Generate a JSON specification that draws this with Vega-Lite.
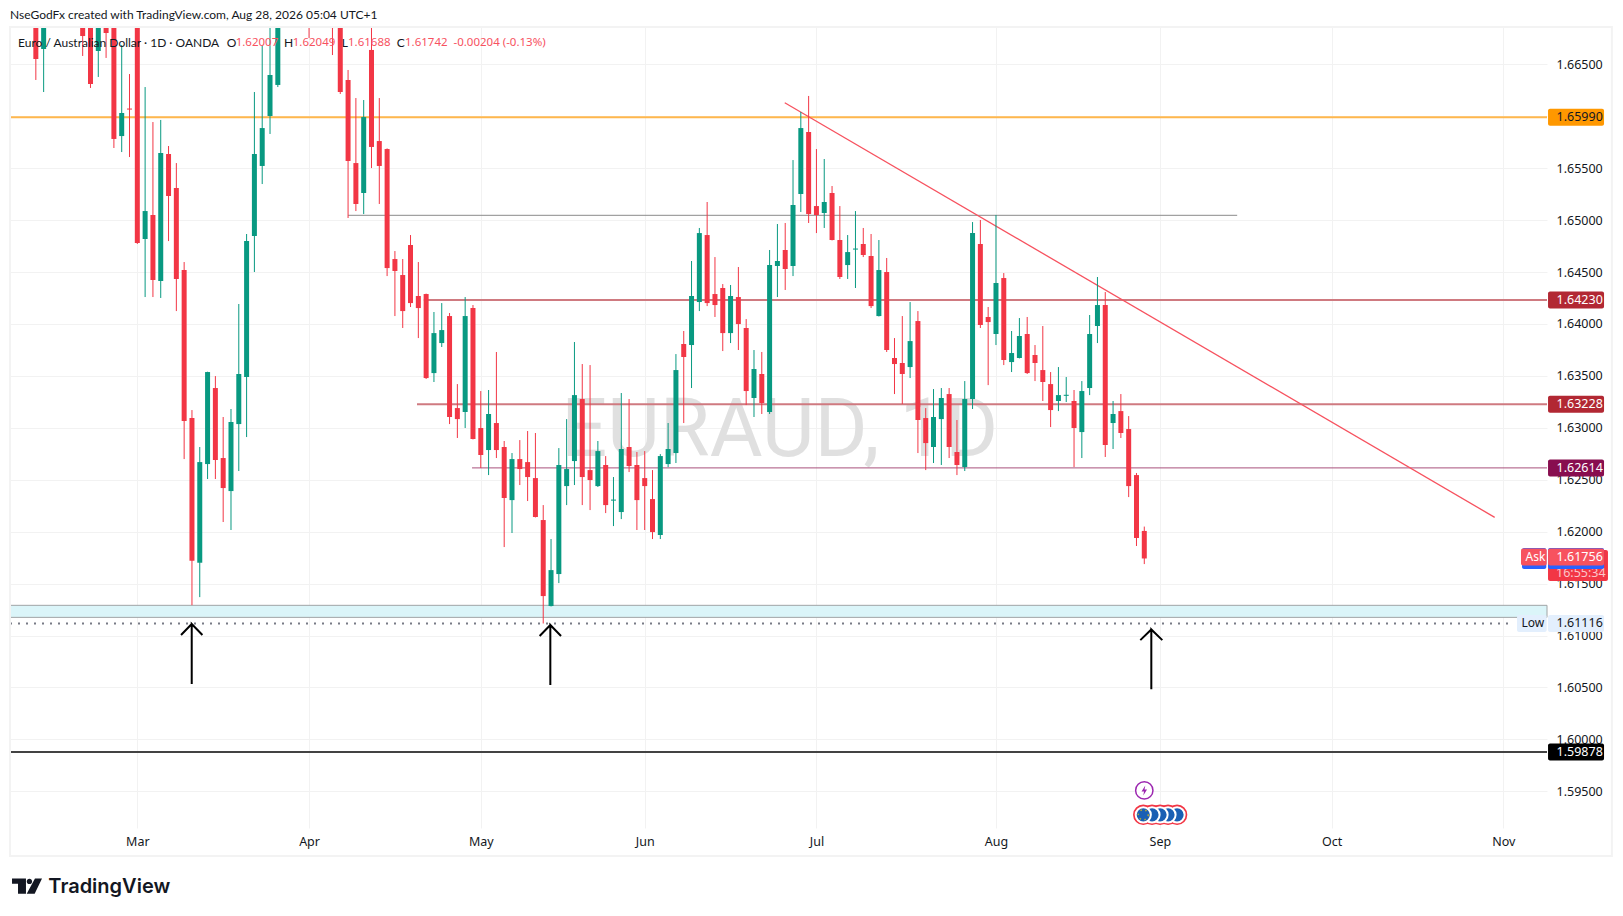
{
  "$schema": "https://vega.github.io/schema/vega-lite/v6.json",
  "autosize": "none",
  "width": 1537,
  "height": 801,
  "padding": {"left": 10, "top": 27, "right": 76, "bottom": 88},
  "background": "white",
  "title": {"text": "NseGodFx created with TradingView.com, Aug 28, 2026 05:04 UTC+1", "anchor": "start", "frame": "group", "offset": 4.5, "font": "Lato", "fontSize": 12, "fontWeight": "normal", "color": "#131722"},
  "config": {"view": {"stroke": null}, "font": "Noto Sans"},
  "datasets": {
    "candles": [
      {"i":-13,"o":1.67023,"h":1.6710,"l":1.66349,"c":1.66551},
      {"i":-12,"o":1.66647,"h":1.6715,"l":1.66233,"c":1.6702},
      {"i":-11,"o":1.6702,"h":1.6725,"l":1.6695,"c":1.6712},
      {"i":-10,"o":1.6712,"h":1.6730,"l":1.6700,"c":1.6705},
      {"i":-9,"o":1.6705,"h":1.6722,"l":1.6692,"c":1.6715},
      {"i":-8,"o":1.6715,"h":1.6725,"l":1.6698,"c":1.6702},
      {"i":-7,"o":1.6700,"h":1.6715,"l":1.6658,"c":1.66772},
      {"i":-6,"o":1.6695,"h":1.6710,"l":1.66272,"c":1.6631},
      {"i":-5,"o":1.66628,"h":1.6712,"l":1.66378,"c":1.6700},
      {"i":-4,"o":1.6695,"h":1.6705,"l":1.66561,"c":1.66801},
      {"i":-3,"o":1.6690,"h":1.6700,"l":1.65694,"c":1.65781},
      {"i":-2,"o":1.65809,"h":1.66686,"l":1.65655,"c":1.66031},
      {"i":-1,"o":1.66074,"h":1.66406,"l":1.65607,"c":1.66064},
      {"i":0,"o":1.6695,"h":1.6705,"l":1.6477,"c":1.64779},
      {"i":1,"o":1.64818,"h":1.66281,"l":1.64259,"c":1.65087},
      {"i":2,"o":1.65049,"h":1.65944,"l":1.64259,"c":1.64423},
      {"i":3,"o":1.64413,"h":1.65964,"l":1.6425,"c":1.65646},
      {"i":4,"o":1.65636,"h":1.65713,"l":1.64798,"c":1.65232},
      {"i":5,"o":1.65309,"h":1.65549,"l":1.64124,"c":1.64433},
      {"i":6,"o":1.64519,"h":1.64596,"l":1.62699,"c":1.63065},
      {"i":7,"o":1.63094,"h":1.63171,"l":1.61293,"c":1.6172},
      {"i":8,"o":1.61701,"h":1.62815,"l":1.6137,"c":1.6267},
      {"i":9,"o":1.62651,"h":1.6354,"l":1.62507,"c":1.63537},
      {"i":10,"o":1.63383,"h":1.63498,"l":1.62507,"c":1.6269},
      {"i":11,"o":1.62709,"h":1.63104,"l":1.62093,"c":1.6242},
      {"i":12,"o":1.62391,"h":1.63181,"l":1.62016,"c":1.63056},
      {"i":13,"o":1.63036,"h":1.64192,"l":1.62584,"c":1.63518},
      {"i":14,"o":1.63489,"h":1.64866,"l":1.62911,"c":1.64798},
      {"i":15,"o":1.64847,"h":1.66233,"l":1.645,"c":1.65636},
      {"i":16,"o":1.65521,"h":1.66676,"l":1.65347,"c":1.65886},
      {"i":17,"o":1.66002,"h":1.6692,"l":1.65829,"c":1.66397},
      {"i":18,"o":1.66301,"h":1.6705,"l":1.66281,"c":1.6695},
      {"i":19,"o":1.6695,"h":1.6715,"l":1.6690,"c":1.6708},
      {"i":20,"o":1.6708,"h":1.6720,"l":1.6688,"c":1.6695},
      {"i":21,"o":1.6692,"h":1.6712,"l":1.66849,"c":1.6702},
      {"i":22,"o":1.6705,"h":1.6715,"l":1.66753,"c":1.6692},
      {"i":23,"o":1.6695,"h":1.6710,"l":1.6690,"c":1.6705},
      {"i":24,"o":1.6705,"h":1.6712,"l":1.6688,"c":1.6695},
      {"i":25,"o":1.6695,"h":1.6705,"l":1.66589,"c":1.66849},
      {"i":26,"o":1.6700,"h":1.6712,"l":1.66214,"c":1.66233},
      {"i":27,"o":1.66349,"h":1.66445,"l":1.6502,"c":1.65569},
      {"i":28,"o":1.65549,"h":1.66175,"l":1.65087,"c":1.65155},
      {"i":29,"o":1.65261,"h":1.66156,"l":1.65058,"c":1.65992},
      {"i":30,"o":1.66638,"h":1.6692,"l":1.65501,"c":1.65704},
      {"i":31,"o":1.65761,"h":1.66175,"l":1.65155,"c":1.65521},
      {"i":32,"o":1.65684,"h":1.6569,"l":1.64461,"c":1.64538},
      {"i":33,"o":1.64625,"h":1.64702,"l":1.64076,"c":1.6451},
      {"i":34,"o":1.64471,"h":1.64625,"l":1.63961,"c":1.64124},
      {"i":35,"o":1.6476,"h":1.64856,"l":1.64163,"c":1.64201},
      {"i":36,"o":1.64269,"h":1.64596,"l":1.63864,"c":1.64153},
      {"i":37,"o":1.64288,"h":1.64292,"l":1.6347,"c":1.63479},
      {"i":38,"o":1.63527,"h":1.64115,"l":1.63441,"c":1.63912},
      {"i":39,"o":1.63816,"h":1.64201,"l":1.63778,"c":1.63941},
      {"i":40,"o":1.64076,"h":1.64105,"l":1.63036,"c":1.63104},
      {"i":41,"o":1.6319,"h":1.63421,"l":1.62902,"c":1.63084},
      {"i":42,"o":1.63152,"h":1.64259,"l":1.62998,"c":1.64076},
      {"i":43,"o":1.64153,"h":1.64182,"l":1.62888,"c":1.62892},
      {"i":44,"o":1.62998,"h":1.63354,"l":1.62613,"c":1.62738},
      {"i":45,"o":1.62786,"h":1.63364,"l":1.62545,"c":1.63133},
      {"i":46,"o":1.63046,"h":1.6373,"l":1.62709,"c":1.62786},
      {"i":47,"o":1.62815,"h":1.62873,"l":1.61852,"c":1.62324},
      {"i":48,"o":1.62304,"h":1.62757,"l":1.61987,"c":1.62699},
      {"i":49,"o":1.62699,"h":1.62882,"l":1.62449,"c":1.62603},
      {"i":50,"o":1.6267,"h":1.62969,"l":1.62295,"c":1.62526},
      {"i":51,"o":1.62516,"h":1.6295,"l":1.62137,"c":1.62141},
      {"i":52,"o":1.62112,"h":1.62256,"l":1.61116,"c":1.6138},
      {"i":53,"o":1.61284,"h":1.61929,"l":1.6128,"c":1.6163},
      {"i":54,"o":1.61592,"h":1.62805,"l":1.61505,"c":1.62642},
      {"i":55,"o":1.62439,"h":1.63084,"l":1.62256,"c":1.62603},
      {"i":56,"o":1.6268,"h":1.63826,"l":1.62449,"c":1.63315},
      {"i":57,"o":1.63277,"h":1.63614,"l":1.62256,"c":1.62526},
      {"i":58,"o":1.62593,"h":1.63604,"l":1.62208,"c":1.62497},
      {"i":59,"o":1.62439,"h":1.62873,"l":1.6243,"c":1.62776},
      {"i":60,"o":1.62642,"h":1.62728,"l":1.62179,"c":1.62256},
      {"i":61,"o":1.62299,"h":1.62526,"l":1.62054,"c":1.62309},
      {"i":62,"o":1.62189,"h":1.63335,"l":1.62121,"c":1.62796},
      {"i":63,"o":1.62815,"h":1.63277,"l":1.62574,"c":1.62632},
      {"i":64,"o":1.62642,"h":1.62767,"l":1.62016,"c":1.62304},
      {"i":65,"o":1.62516,"h":1.62776,"l":1.62016,"c":1.62439},
      {"i":66,"o":1.62314,"h":1.62593,"l":1.61929,"c":1.61996},
      {"i":67,"o":1.61968,"h":1.62747,"l":1.61929,"c":1.62728},
      {"i":68,"o":1.62651,"h":1.63046,"l":1.62622,"c":1.62796},
      {"i":69,"o":1.62757,"h":1.6371,"l":1.62661,"c":1.63556},
      {"i":70,"o":1.63807,"h":1.63932,"l":1.63046,"c":1.63682},
      {"i":71,"o":1.63797,"h":1.64606,"l":1.63383,"c":1.64269},
      {"i":72,"o":1.64211,"h":1.64924,"l":1.64124,"c":1.64875},
      {"i":73,"o":1.64856,"h":1.65174,"l":1.64172,"c":1.64201},
      {"i":74,"o":1.64288,"h":1.64644,"l":1.64067,"c":1.64182},
      {"i":75,"o":1.64346,"h":1.64384,"l":1.63739,"c":1.63912},
      {"i":76,"o":1.63912,"h":1.64375,"l":1.63816,"c":1.64269},
      {"i":77,"o":1.64259,"h":1.64548,"l":1.63749,"c":1.63999},
      {"i":78,"o":1.63961,"h":1.64047,"l":1.63219,"c":1.63354},
      {"i":79,"o":1.63287,"h":1.63749,"l":1.63104,"c":1.63566},
      {"i":80,"o":1.63518,"h":1.6373,"l":1.63133,"c":1.63239},
      {"i":81,"o":1.63152,"h":1.64712,"l":1.63133,"c":1.64567},
      {"i":82,"o":1.64558,"h":1.64962,"l":1.64259,"c":1.64606},
      {"i":83,"o":1.64712,"h":1.64972,"l":1.64327,"c":1.64529},
      {"i":84,"o":1.64558,"h":1.65578,"l":1.64461,"c":1.65145},
      {"i":85,"o":1.65251,"h":1.66041,"l":1.65078,"c":1.65886},
      {"i":86,"o":1.65848,"h":1.66195,"l":1.64972,"c":1.65058},
      {"i":87,"o":1.65135,"h":1.65684,"l":1.64875,"c":1.65049},
      {"i":88,"o":1.65068,"h":1.65588,"l":1.64924,"c":1.65174},
      {"i":89,"o":1.65261,"h":1.65328,"l":1.64804,"c":1.64808},
      {"i":90,"o":1.64808,"h":1.65135,"l":1.64433,"c":1.64452},
      {"i":91,"o":1.64567,"h":1.64856,"l":1.64433,"c":1.64692},
      {"i":92,"o":1.64716,"h":1.65087,"l":1.64346,"c":1.64726},
      {"i":93,"o":1.6477,"h":1.64924,"l":1.64644,"c":1.64664},
      {"i":94,"o":1.64654,"h":1.64866,"l":1.64153,"c":1.64172},
      {"i":95,"o":1.64076,"h":1.64808,"l":1.64072,"c":1.64519},
      {"i":96,"o":1.645,"h":1.64635,"l":1.6373,"c":1.63749},
      {"i":97,"o":1.63672,"h":1.63864,"l":1.63325,"c":1.63614},
      {"i":98,"o":1.63624,"h":1.64076,"l":1.63229,"c":1.63518},
      {"i":99,"o":1.63585,"h":1.64211,"l":1.63479,"c":1.63835},
      {"i":100,"o":1.64028,"h":1.64124,"l":1.62757,"c":1.63075},
      {"i":101,"o":1.63094,"h":1.6319,"l":1.62593,"c":1.62853},
      {"i":102,"o":1.62815,"h":1.63373,"l":1.62661,"c":1.63104},
      {"i":103,"o":1.63084,"h":1.63383,"l":1.62642,"c":1.63287},
      {"i":104,"o":1.63325,"h":1.63383,"l":1.62709,"c":1.62815},
      {"i":105,"o":1.62767,"h":1.63075,"l":1.62545,"c":1.62642},
      {"i":106,"o":1.62622,"h":1.6345,"l":1.62584,"c":1.63277},
      {"i":107,"o":1.63277,"h":1.64981,"l":1.63181,"c":1.64875},
      {"i":108,"o":1.6477,"h":1.65001,"l":1.63961,"c":1.6399},
      {"i":109,"o":1.64067,"h":1.64163,"l":1.63411,"c":1.64018},
      {"i":110,"o":1.63903,"h":1.65049,"l":1.63797,"c":1.64394},
      {"i":111,"o":1.64442,"h":1.6449,"l":1.63604,"c":1.63653},
      {"i":112,"o":1.63633,"h":1.63932,"l":1.63537,"c":1.6372},
      {"i":113,"o":1.63672,"h":1.64057,"l":1.63668,"c":1.63884},
      {"i":114,"o":1.63903,"h":1.64067,"l":1.63518,"c":1.63527},
      {"i":115,"o":1.63701,"h":1.63797,"l":1.6345,"c":1.63624},
      {"i":116,"o":1.63556,"h":1.6398,"l":1.63258,"c":1.63441},
      {"i":117,"o":1.63421,"h":1.63537,"l":1.63007,"c":1.63171},
      {"i":118,"o":1.63258,"h":1.63585,"l":1.63161,"c":1.63315},
      {"i":119,"o":1.63308,"h":1.63489,"l":1.63248,"c":1.63318},
      {"i":120,"o":1.63258,"h":1.63364,"l":1.62622,"c":1.62998},
      {"i":121,"o":1.62959,"h":1.6345,"l":1.62709,"c":1.63354},
      {"i":122,"o":1.63383,"h":1.64086,"l":1.63315,"c":1.63903},
      {"i":123,"o":1.6398,"h":1.64452,"l":1.63816,"c":1.64182},
      {"i":124,"o":1.64182,"h":1.64307,"l":1.62719,"c":1.62834},
      {"i":125,"o":1.63046,"h":1.63258,"l":1.62796,"c":1.63133},
      {"i":126,"o":1.63161,"h":1.63325,"l":1.62902,"c":1.6295},
      {"i":127,"o":1.62988,"h":1.63113,"l":1.62333,"c":1.62439},
      {"i":128,"o":1.62545,"h":1.62565,"l":1.61862,"c":1.61939},
      {"i":129,"o":1.62007,"h":1.62049,"l":1.61688,"c":1.61742}
    ],
    "levels": [
      {"name":"orange","from":-16.31,"to":180.59,"price":1.6599},
      {"name":"red","from":36.7,"to":180.59,"price":1.6423},
      {"name":"red","from":35.83,"to":180.59,"price":1.63228},
      {"name":"purple","from":42.88,"to":180.59,"price":1.62614},
      {"name":"gray","from":27,"to":140.9,"price":1.65046},
      {"name":"black","from":-16.31,"to":180.59,"price":1.59878}
    ],
    "tags": [
      {"label":"1.65990","price":1.6599,"kind":"orange"},
      {"label":"1.64230","price":1.6423,"kind":"red"},
      {"label":"1.63228","price":1.63228,"kind":"red"},
      {"label":"1.62614","price":1.62614,"kind":"purple"},
      {"label":"1.59878","price":1.59878,"kind":"black"},
      {"label":"1.61116","price":1.61116,"kind":"low"},
      {"label":"1.61756","price":1.61756,"kind":"ask"}
    ],
    "arrows": [
      {"arrow":1,"step":0,"i":5.6,"price":1.61005},
      {"arrow":1,"step":1,"i":6.97,"price":1.61111},
      {"arrow":1,"step":2,"i":8.34,"price":1.61005},
      {"arrow":1,"step":3,"i":6.97,"price":1.61111},
      {"arrow":1,"step":4,"i":6.97,"price":1.60533},
      {"arrow":2,"step":0,"i":51.54,"price":1.60995},
      {"arrow":2,"step":1,"i":52.91,"price":1.61101},
      {"arrow":2,"step":2,"i":54.28,"price":1.60995},
      {"arrow":2,"step":3,"i":52.91,"price":1.61101},
      {"arrow":2,"step":4,"i":52.91,"price":1.60523},
      {"arrow":3,"step":0,"i":128.49,"price":1.60956},
      {"arrow":3,"step":1,"i":129.9,"price":1.61059},
      {"arrow":3,"step":2,"i":131.31,"price":1.60956},
      {"arrow":3,"step":3,"i":129.9,"price":1.61059},
      {"arrow":3,"step":4,"i":129.9,"price":1.60484}
    ],
    "events": [
      {"i":133.2,"price":1.59274},
      {"i":132.04,"price":1.59274},
      {"i":131.02,"price":1.59274},
      {"i":129.99,"price":1.59274},
      {"i":128.87,"price":1.59274}
    ]
  },
  "layer": [
    {
      "data": {"values": [{"text": "EURAUD, 1D", "i": 82.3, "price": 1.6296}]},
      "mark": {"type": "text", "font": "Roboto", "fontSize": 81, "color": "#e0e0e0", "align": "center", "baseline": "middle"},
      "encoding": {
        "x": {
          "field": "i", "type": "quantitative", "title": null,
          "scale": {"domain": [-16.31, 180.59], "nice": false, "zero": false, "padding": 0},
          "axis": {
            "values": [0, 22, 44, 65, 87, 110, 131, 153, 175],
            "labelExpr": "['Mar','Apr','May','Jun','Jul','Aug','Sep','Oct','Nov'][indexof([0,22,44,65,87,110,131,153,175],datum.value)]",
            "grid": true, "gridColor": "#f2f2f2", "ticks": false, "domain": false,
            "labelAngle": 0, "labelFontSize": 12.5, "labelColor": "#131722", "labelPadding": 7, "labelOverlap": false, "labelFlush": false
          }
        },
        "y": {
          "field": "price", "type": "quantitative", "title": null,
          "scale": {"domain": [1.59147, 1.66859], "nice": false, "zero": false},
          "axis": {
            "orient": "right",
            "values": [1.595, 1.6, 1.605, 1.61, 1.615, 1.62, 1.625, 1.63, 1.635, 1.64, 1.645, 1.65, 1.655, 1.66, 1.665],
            "format": ".5f",
            "grid": true, "gridColor": "#f2f2f2", "ticks": false, "domain": false,
            "labelFontSize": 12.5, "labelColor": "#131722", "labelPadding": 9, "labelOverlap": false, "labelFlush": false
          }
        },
        "text": {"field": "text"}
      }
    },
    {
      "data": {"values": [{"from": -16.31, "to": 180.59, "top": 1.61291, "bottom": 1.61175}]},
      "mark": {"type": "rect", "color": "#dbf5f9", "stroke": "#a0a4a6", "strokeWidth": 1},
      "encoding": {
        "x": {"field": "from", "type": "quantitative"},
        "x2": {"field": "to"},
        "y": {"field": "top", "type": "quantitative"},
        "y2": {"field": "bottom"}
      }
    },
    {
      "data": {"name": "levels"},
      "mark": {"type": "rule"},
      "encoding": {
        "x": {"field": "from", "type": "quantitative"},
        "x2": {"field": "to"},
        "y": {"field": "price", "type": "quantitative"},
        "color": {"field": "name", "type": "nominal", "legend": null, "scale": {"domain": ["orange", "red", "purple", "gray", "black"], "range": ["#ffb74d", "#cf7a80", "#a8517c", "#8a8a8a", "#434343"]}},
        "strokeWidth": {"condition": {"test": "datum.name == 'purple' || datum.name == 'gray'", "value": 1}, "value": 2}
      }
    },
    {
      "data": {"values": [{"from": -16.31, "to": 176.2, "price": 1.61116}]},
      "mark": {"type": "rule", "color": "#787b86", "strokeWidth": 2, "strokeDash": [2, 6]},
      "encoding": {
        "x": {"field": "from", "type": "quantitative"},
        "x2": {"field": "to"},
        "y": {"field": "price", "type": "quantitative"}
      }
    },
    {
      "data": {"values": [{"i": 82.94, "price": 1.6613}, {"i": 173.89, "price": 1.62138}]},
      "mark": {"type": "line", "color": "#f7525f", "strokeWidth": 1.3},
      "encoding": {
        "x": {"field": "i", "type": "quantitative"},
        "y": {"field": "price", "type": "quantitative"}
      }
    },
    {
      "data": {"name": "candles"},
      "mark": {"type": "rule", "strokeWidth": 1, "clip": true},
      "encoding": {
        "x": {"field": "i", "type": "quantitative"},
        "y": {"field": "l", "type": "quantitative"},
        "y2": {"field": "h"},
        "color": {"condition": {"test": "datum.o < datum.c", "value": "#089981"}, "value": "#f23645"}
      }
    },
    {
      "data": {"name": "candles"},
      "mark": {"type": "bar", "orient": "vertical", "size": 5, "clip": true},
      "encoding": {
        "x": {"field": "i", "type": "quantitative"},
        "y": {"field": "o", "type": "quantitative"},
        "y2": {"field": "c"},
        "color": {"condition": {"test": "datum.o < datum.c", "value": "#089981"}, "value": "#f23645"}
      }
    },
    {
      "data": {"name": "arrows"},
      "mark": {"type": "line", "color": "black", "strokeWidth": 2},
      "encoding": {
        "x": {"field": "i", "type": "quantitative"},
        "y": {"field": "price", "type": "quantitative"},
        "detail": {"field": "arrow"},
        "order": {"field": "step"}
      }
    },
    {
      "data": {"values": [{"i": 129.0, "price": 1.59509}]},
      "mark": {"type": "point", "shape": "circle", "size": 300, "stroke": "#9c27b0", "strokeWidth": 1.5, "fill": "white", "fillOpacity": 1},
      "encoding": {
        "x": {"field": "i", "type": "quantitative"},
        "y": {"field": "price", "type": "quantitative"}
      }
    },
    {
      "data": {"values": [{"i": 129.0, "price": 1.59509}]},
      "mark": {"type": "point", "shape": "M0.2,-1 L-0.55,0.2 L-0.05,0.2 L-0.2,1 L0.55,-0.2 L0.05,-0.2 Z", "size": 100, "fill": "#9c27b0", "fillOpacity": 1, "strokeWidth": 0},
      "encoding": {
        "x": {"field": "i", "type": "quantitative"},
        "y": {"field": "price", "type": "quantitative"}
      }
    },
    {
      "data": {"name": "events"},
      "mark": {"type": "point", "shape": "circle", "size": 420, "fill": "#f23645", "fillOpacity": 1, "strokeWidth": 0},
      "encoding": {
        "x": {"field": "i", "type": "quantitative"},
        "y": {"field": "price", "type": "quantitative"}
      }
    },
    {
      "data": {"name": "events"},
      "mark": {"type": "point", "shape": "circle", "size": 230, "fill": "#1a5fb4", "fillOpacity": 1, "stroke": "white", "strokeWidth": 2},
      "encoding": {
        "x": {"field": "i", "type": "quantitative"},
        "y": {"field": "price", "type": "quantitative"}
      }
    },
    {
      "data": {"values": [{"i": 128.87, "price": 1.59274}]},
      "mark": {"type": "point", "shape": "circle", "size": 100, "fill": null, "stroke": "#f7c600", "strokeWidth": 1.5, "strokeDash": [1.5, 3.5]},
      "encoding": {
        "x": {"field": "i", "type": "quantitative"},
        "y": {"field": "price", "type": "quantitative"}
      }
    },
    {
      "data": {"values": [{"from": 180.72, "to": 188.4, "price": 1.61674}]},
      "mark": {"type": "rect", "height": 31, "color": "#f23645", "cornerRadius": 2},
      "encoding": {
        "x": {"field": "from", "type": "quantitative"},
        "x2": {"field": "to"},
        "y": {"field": "price", "type": "quantitative"}
      }
    },
    {
      "data": {"values": [{"from": 180.72, "text": "16:55:34", "price": 1.61604}]},
      "mark": {"type": "text", "align": "left", "baseline": "middle", "dx": 8, "fontSize": 12.5, "color": "#fbc5ca"},
      "encoding": {
        "x": {"field": "from", "type": "quantitative"},
        "y": {"field": "price", "type": "quantitative"},
        "text": {"field": "text"}
      }
    },
    {
      "data": {"values": [{"from": 180.72, "to": 187.9, "price": 1.61741}, {"from": 177.39, "to": 180.5, "price": 1.61741}]},
      "mark": {"type": "rect", "height": 21, "color": "#2962ff", "cornerRadius": 2},
      "encoding": {
        "x": {"field": "from", "type": "quantitative"},
        "x2": {"field": "to"},
        "y": {"field": "price", "type": "quantitative"}
      }
    },
    {
      "data": {"values": [{"from": 177.26, "to": 180.55, "price": 1.61756, "kind": "ask"}, {"from": 176.75, "to": 180.55, "price": 1.61116, "kind": "low"}]},
      "mark": {"type": "rect", "height": 17, "cornerRadius": 2},
      "encoding": {
        "x": {"field": "from", "type": "quantitative"},
        "x2": {"field": "to"},
        "y": {"field": "price", "type": "quantitative"},
        "color": {"condition": {"test": "datum.kind == 'ask'", "value": "#f7525f"}, "value": "#e3effd"}
      }
    },
    {
      "data": {"values": [{"from": 177.26, "price": 1.61756, "text": "Ask", "kind": "ask"}, {"from": 176.75, "price": 1.61116, "text": "Low", "kind": "low"}]},
      "mark": {"type": "text", "align": "left", "baseline": "middle", "dx": 4.5, "fontSize": 12},
      "encoding": {
        "x": {"field": "from", "type": "quantitative"},
        "y": {"field": "price", "type": "quantitative"},
        "text": {"field": "text"},
        "color": {"condition": {"test": "datum.kind == 'ask'", "value": "white"}, "value": "#131722"}
      }
    },
    {
      "data": {"name": "tags"},
      "mark": {"type": "rect", "height": 17, "width": 56, "cornerRadius": 2},
      "encoding": {
        "x": {"datum": 184.31},
        "y": {"field": "price", "type": "quantitative"},
        "color": {"field": "kind", "type": "nominal", "legend": null, "scale": {"domain": ["orange", "red", "purple", "black", "low", "ask"], "range": ["#ff9800", "#b22833", "#880e4f", "#000000", "#e3effd", "#f7525f"]}}
      }
    },
    {
      "data": {"name": "tags"},
      "mark": {"type": "text", "align": "left", "baseline": "middle", "dx": -19.5, "fontSize": 12.5},
      "encoding": {
        "x": {"datum": 184.31},
        "y": {"field": "price", "type": "quantitative"},
        "text": {"field": "label"},
        "color": {"condition": {"test": "datum.kind == 'orange' || datum.kind == 'low'", "value": "#131722"}, "value": "white"}
      }
    },
    {
      "data": {"values": [{"text": "Euro / Australian Dollar · 1D · OANDA", "i": -15.28}, {"text": "O", "i": 11.45}, {"text": "H", "i": 18.79}, {"text": "L", "i": 26.18}, {"text": "C", "i": 33.23}]},
      "mark": {"type": "text", "align": "left", "baseline": "middle", "font": "Lato", "fontSize": 12, "color": "#131722"},
      "encoding": {
        "x": {"field": "i", "type": "quantitative"},
        "y": {"datum": 1.66709},
        "text": {"field": "text"}
      }
    },
    {
      "data": {"values": [{"text": "1.62007", "i": 12.6}, {"text": "1.62049", "i": 19.91}, {"text": "1.61688", "i": 26.99}, {"text": "1.61742", "i": 34.29}, {"text": "-0.00204 (-0.13%)", "i": 40.5}]},
      "mark": {"type": "text", "align": "left", "baseline": "middle", "fontSize": 11.5, "color": "#f7525f"},
      "encoding": {
        "x": {"field": "i", "type": "quantitative"},
        "y": {"datum": 1.66709},
        "text": {"field": "text"}
      }
    },
    {
      "data": {"values": [{"i": 188.9, "from": -16.31, "top": 1.66859, "bottom": 1.58877}]},
      "mark": {"type": "rect", "fill": null, "stroke": "#f3f3f3", "strokeWidth": 2},
      "encoding": {
        "x": {"field": "from", "type": "quantitative"},
        "x2": {"field": "i"},
        "y": {"field": "top", "type": "quantitative"},
        "y2": {"field": "bottom"}
      }
    },
    {
      "data": {"values": [{"i": -14.13, "price": 1.58588}]},
      "mark": {"type": "point", "shape": "M-1,-0.51 L-0.07,-0.51 L-0.07,0.51 L-0.6,0.51 L-0.6,-0.16 L-1,-0.16 Z M0.53,-0.51 L1,-0.51 L0.51,0.51 L-0.02,0.51 Z M-0.02,-0.31 a0.18,0.18 0 1,0 0.36,0 a0.18,0.18 0 1,0 -0.36,0 Z", "size": 900, "fill": "#131722", "fillOpacity": 1, "strokeWidth": 0},
      "encoding": {
        "x": {"field": "i", "type": "quantitative"},
        "y": {"field": "price", "type": "quantitative"}
      }
    },
    {
      "data": {"values": [{"text": "TradingView", "i": -11.4, "price": 1.58578}]},
      "mark": {"type": "text", "align": "left", "baseline": "middle", "font": "Inter", "fontSize": 20, "fontWeight": 600, "color": "#131722"},
      "encoding": {
        "x": {"field": "i", "type": "quantitative"},
        "y": {"field": "price", "type": "quantitative"},
        "text": {"field": "text"}
      }
    }
  ],
  "resolve": {"scale": {"color": "independent"}}
}
